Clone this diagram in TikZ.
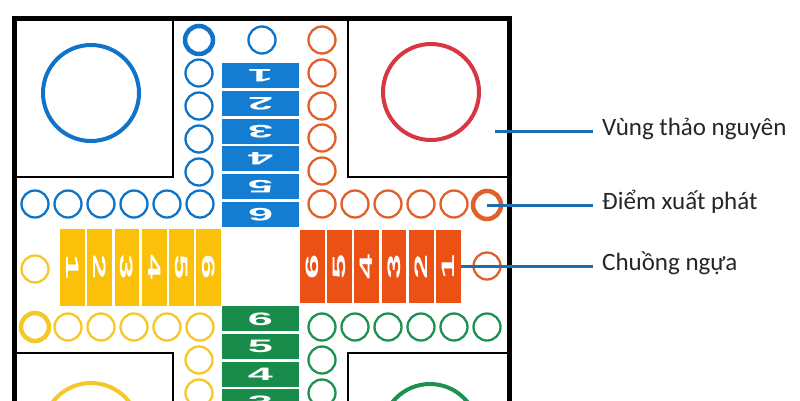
\documentclass[tikz,border=0pt]{standalone}
\usepackage{fontspec}
\setmainfont{Carlito}
\newfontfamily\digitfont{Liberation Sans}
\usepackage{graphicx}
\definecolor{ludoblue}{RGB}{20,125,210}
\definecolor{ringblue}{RGB}{15,115,200}
\definecolor{ludoyellow}{RGB}{250,192,10}
\definecolor{ringyellow}{RGB}{245,200,40}
\definecolor{ludoorange}{RGB}{235,80,20}
\definecolor{ringorange}{RGB}{225,95,40}
\definecolor{ludored}{RGB}{215,55,65}
\definecolor{ludogreen}{RGB}{25,140,75}
\definecolor{ringgreen}{RGB}{30,145,80}
\definecolor{lineblue}{RGB}{30,110,175}
\newcommand{\wide}[1]{\scalebox{2.5}[1]{#1}}

\begin{document}
\begin{tikzpicture}[x=1pt,y=-1pt,
    trackring/.style={line width=2.3pt},
    startring/.style={line width=4.5pt},
    numcell/.style={rectangle, inner sep=0pt, text=white, font=\digitfont\bfseries\fontsize{18}{18}\selectfont},
    tag/.style={anchor=west, inner xsep=9pt, text height=14pt, text depth=6pt, font=\fontsize{25}{30}\selectfont, text=black!85},
    pointer/.style={draw=lineblue, line width=3pt}]
    \clip (0,0) rectangle (800,400);
    \fill[white] (0,0) rectangle (800,400);

    % frame and the four homes
    \draw[line width=5pt] (14.5,18) rectangle (509.5,530);
    \draw[line width=2.5pt] (15,19) rectangle (173,177);
    \draw[line width=2.5pt] (348,19) rectangle (509,177);
    \draw[line width=2.5pt] (15,353) rectangle (173,520);
    \draw[line width=2.5pt] (348,353) rectangle (509,520);
    \draw[ringblue, line width=4pt] (91,93) circle[radius=48pt];
    \draw[ludored, line width=4pt] (431,92) circle[radius=48pt];
    \draw[ringyellow, line width=4pt] (91,431) circle[radius=48pt];
    \draw[ringgreen, line width=4pt] (430,432) circle[radius=48pt];

    % track
    \foreach \y in {73,106,139,172} \draw[ringblue,trackring] (199,\y) circle[radius=13.5pt];
    \foreach \x in {35,68,101,134,167,200} \draw[ringblue,trackring] (\x,204) circle[radius=13.5pt];
    \draw[ringblue,startring] (199,40) circle[radius=14pt];
    \draw[ringblue,trackring] (262,40) circle[radius=13.5pt];

    \foreach \y in {40,73,106,138,171} \draw[ringorange,trackring] (322,\y) circle[radius=13.5pt];
    \foreach \x in {322,355,388,421,454} \draw[ringorange,trackring] (\x,204) circle[radius=13.5pt];
    \draw[ringorange,startring] (487,205) circle[radius=14pt];
    \draw[ringorange,trackring] (487,266) circle[radius=13.5pt];

    \foreach \x in {68,101,134,167,200} \draw[ringyellow,trackring] (\x,327) circle[radius=13.5pt];
    \foreach \y in {360,393} \draw[ringyellow,trackring] (199,\y) circle[radius=13.5pt];
    \draw[ringyellow,startring] (35,327) circle[radius=14pt];
    \draw[ringyellow,trackring] (35,269) circle[radius=13.5pt];

    \foreach \x in {322,355,388,421,454,487} \draw[ringgreen,trackring] (\x,327) circle[radius=13.5pt];
    \foreach \y in {360,393} \draw[ringgreen,trackring] (322,\y) circle[radius=13.5pt];

    % home stretches
    \foreach \n in {1,...,6}
        \node[numcell, fill=ludoblue, minimum width=77pt, minimum height=25pt] (b\n) at (260.5,{75.85+27.7*(\n-1)}) {\rotatebox{180}{\wide{\n}}};
    \foreach \n in {1,...,6}
        \node[numcell, fill=ludoyellow, minimum width=24.7pt, minimum height=77pt] (y\n) at ({72.6+27.2*(\n-1)},267.5) {\rotatebox{-90}{\wide{\n}}};
    \foreach \n in {1,...,6}
        \node[numcell, fill=ludoorange, minimum width=24.7pt, minimum height=73pt] (o\n) at ({448.4-27.2*(\n-1)},266.5) {\rotatebox{90}{\wide{\n}}};
    \foreach \n in {3,...,6}
        \node[numcell, fill=ludogreen, minimum width=77pt, minimum height=25pt] (g\n) at (260.5,{318.85+27.7*(6-\n)}) {\wide{\n}};

    % labels
    \node[tag] (grassland) at (593,131) {Vùng thảo nguyên};
    \node[tag] (startpt) at (593,205) {Điểm xuất phát};
    \node[tag] (stable) at (593,266.5) {Chuồng ngựa};
    \coordinate (homeR) at (495,131);
    \coordinate (startR) at (487,205);
    \draw[pointer] (homeR) -- (grassland.west);
    \draw[pointer] (startR) -- (startpt.west);
    \draw[pointer] (o1.east) -- (stable.west);
\end{tikzpicture}
\end{document}
